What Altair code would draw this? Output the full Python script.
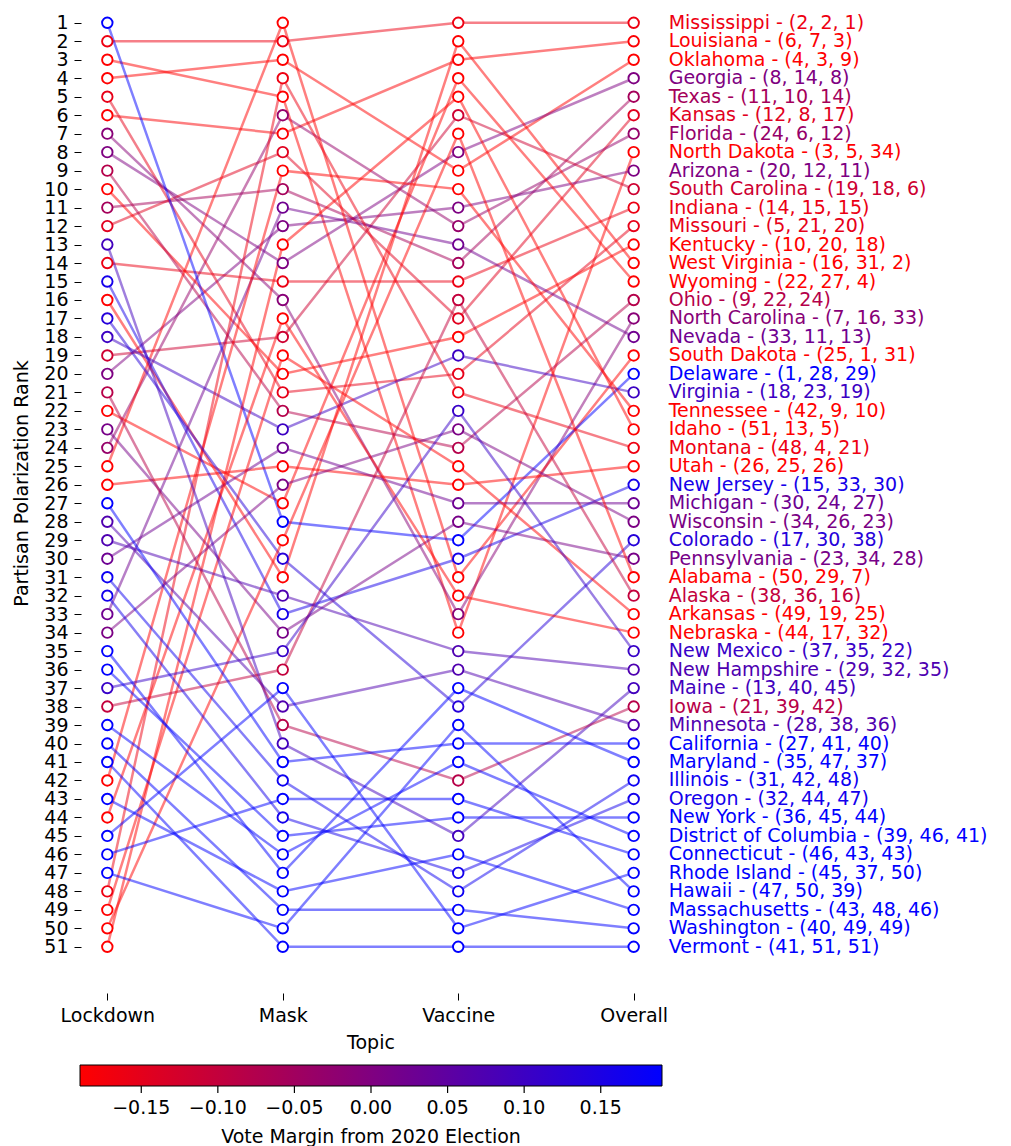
import altair as alt
import pandas as pd

FONT = "DejaVu Sans"

states = ["Mississippi", "Louisiana", "Oklahoma", "Georgia", "Texas", "Kansas", "Florida",
          "North Dakota", "Arizona", "South Carolina", "Indiana", "Missouri", "Kentucky",
          "West Virginia", "Wyoming", "Ohio", "North Carolina", "Nevada", "South Dakota",
          "Delaware", "Virginia", "Tennessee", "Idaho", "Montana", "Utah", "New Jersey",
          "Michigan", "Wisconsin", "Colorado", "Pennsylvania", "Alabama", "Alaska", "Arkansas",
          "Nebraska", "New Mexico", "New Hampshire", "Maine", "Iowa", "Minnesota", "California",
          "Maryland", "Illinois", "Oregon", "New York", "District of Columbia", "Connecticut",
          "Rhode Island", "Hawaii", "Massachusetts", "Washington", "Vermont"]

lockdown_rank = [2, 6, 4, 8, 11, 12, 24, 3, 20, 19, 14, 5, 10, 16, 22, 9, 7, 33, 25, 1, 18,
                 42, 51, 48, 26, 15, 30, 34, 17, 23, 50, 38, 49, 44, 37, 29, 13, 21, 28, 27,
                 35, 31, 32, 36, 39, 46, 45, 47, 43, 40, 41]
mask_rank = [2, 7, 3, 14, 10, 8, 6, 5, 12, 18, 15, 21, 20, 31, 27, 22, 16, 11, 1, 28, 23,
             9, 13, 4, 25, 33, 24, 26, 30, 34, 29, 36, 19, 17, 35, 32, 40, 39, 38, 41,
             47, 42, 44, 45, 46, 43, 37, 50, 48, 49, 51]
vaccine_rank = [1, 3, 9, 8, 14, 17, 12, 34, 11, 6, 15, 20, 18, 2, 4, 24, 33, 13, 31, 29, 19,
                10, 5, 21, 26, 30, 27, 23, 38, 28, 7, 16, 25, 32, 22, 35, 45, 42, 36, 40,
                37, 48, 47, 44, 41, 43, 50, 39, 46, 49, 51]
overall_rank = [1, 2, 3, 4, 5, 6, 7, 8, 9, 10, 11, 12, 13, 14, 15, 16, 17, 18, 19, 20, 21,
                22, 23, 24, 25, 26, 27, 28, 29, 30, 31, 32, 33, 34, 35, 36, 37, 38, 39, 40,
                41, 42, 43, 44, 45, 46, 47, 48, 49, 50, 51]
vote_margin = [-0.165, -0.186, -0.331, 0.002, -0.056, -0.146, -0.034, -0.334, 0.003, -0.117,
               -0.161, -0.154, -0.259, -0.389, -0.434, -0.080, -0.013, 0.024, -0.262, 0.190,
               0.101, -0.232, -0.308, -0.164, -0.205, 0.159, 0.028, 0.006, 0.135, 0.012,
               -0.255, -0.101, -0.276, -0.191, 0.108, 0.074, 0.091, -0.082, 0.071, 0.292,
               0.332, 0.170, 0.161, 0.231, 0.862, 0.200, 0.208, 0.294, 0.335, 0.192, 0.351]

topics = ["Lockdown", "Mask", "Vaccine", "Overall"]
colorbar_ticks = [-0.15, -0.10, -0.05, 0.00, 0.05, 0.10, 0.15]
color_domain = [-0.19, 0.19]
# same colours for the label text; a hair-wide different domain keeps its (hidden)
# legend from being merged into the colour bar
text_domain = [-0.19001, 0.19001]
color_range = ["#ff0000", "#0000ff"]

rows = []
for i, s in enumerate(states):
    rks = [lockdown_rank[i], mask_rank[i], vaccine_rank[i], overall_rank[i]]
    for t, r in enumerate(rks):
        rows.append({"state": s, "topic": t, "rank": r, "margin": vote_margin[i]})
df = pd.DataFrame(rows)

labels = pd.DataFrame({
    "state": states,
    "topic": [3] * len(states),
    "rank": overall_rank,
    "margin": vote_margin,
    "label": [f"{s} - ({a}, {b}, {c})" for s, a, b, c in
              zip(states, lockdown_rank, mask_rank, vaccine_rank)],
})
ticks_df = pd.DataFrame({"tick": colorbar_ticks})

label_expr = "[" + ",".join(f"'{t}'" for t in topics) + "][datum.value]"

x = alt.X("topic:Q",
          scale=alt.Scale(domain=[-0.15, 3.15], nice=False, zero=False),
          axis=alt.Axis(values=[0, 1, 2, 3], labelExpr=label_expr, title="Topic",
                        domain=False, grid=False, tickSize=7, tickWidth=1, tickColor="black",
                        labelFlush=False, labelOverlap=False, labelPadding=6,
                        titlePadding=8))
y = alt.Y("rank:Q",
          scale=alt.Scale(domain=[0.47, 53.5], reverse=True, nice=False, zero=False),
          axis=alt.Axis(values=overall_rank, title="Partisan Polarization Rank",
                        domain=False, grid=False, tickSize=7, tickWidth=1, tickColor="black",
                        labelFlush=False, labelOverlap=False, labelPadding=6,
                        titlePadding=12, titleY=470))

stroke_scale = alt.Scale(domain=color_domain, range=color_range,
                         interpolate="rgb", clamp=True)
fill_scale = alt.Scale(domain=text_domain, range=color_range,
                       interpolate="rgb", clamp=True)
legend = alt.Legend(type="gradient", orient="none", legendX=-1, legendY=1052,
                    direction="horizontal",
                    gradientLength=582, gradientThickness=21, gradientStrokeColor="black",
                    gradientStrokeWidth=1, titleOrient="bottom", titleAnchor="middle",
                    values=colorbar_ticks, format=".2f", labelFontSize=19, titleFontSize=19,
                    labelOffset=13, labelOverlap=False, titleFontWeight="normal",
                    titlePadding=10, labelColor="black", titleColor="black", padding=0,
                    labelFont=FONT, titleFont=FONT, titleLimit=0, labelLimit=0)
stroke_enc = alt.Stroke("margin:Q", scale=stroke_scale, legend=legend,
                        title="Vote Margin from 2020 Election")
fill_enc = alt.Fill("margin:Q", scale=fill_scale, legend=None)

lines = alt.Chart(df).mark_line(strokeWidth=2.5, strokeOpacity=0.5).encode(
    x=x, y=y, stroke=stroke_enc, detail="state:N", order="topic:Q")

points = alt.Chart(df).mark_point(shape="circle", size=110, strokeWidth=1.9, fill="white",
                                  fillOpacity=1, opacity=1).encode(
    x=x, y=y, stroke=stroke_enc)

texts = alt.Chart(labels).mark_text(align="left", baseline="middle", dx=35, fontSize=19,
                                    font=FONT).encode(
    x=x, y=y, text="label:N", fill=fill_enc)

# small tick marks under the colour bar, placed through their own scale
cbar_ticks = alt.Chart(ticks_df).mark_rule(color="black", strokeWidth=1.2).encode(
    x=alt.X("tick:Q", scale=alt.Scale(domain=color_domain, range=[-1, 581], nice=False,
                                      zero=False), axis=None),
    y=alt.value(1073), y2=alt.value(1080))

main = alt.layer(lines, points, texts)
chart = alt.layer(main, cbar_ticks).resolve_scale(x="independent").properties(
    width=579, height=980,
    autosize=alt.AutoSizeParams(type="none"),
    padding={"left": 73, "top": 5, "right": 343, "bottom": 158},
).configure_view(stroke=None).configure_axis(
    labelFont=FONT, titleFont=FONT, labelFontSize=19, titleFontSize=19,
    labelColor="black", titleColor="black", titleFontWeight="normal")

chart.save("out.html", embed_options={"renderer": "svg", "actions": False})
